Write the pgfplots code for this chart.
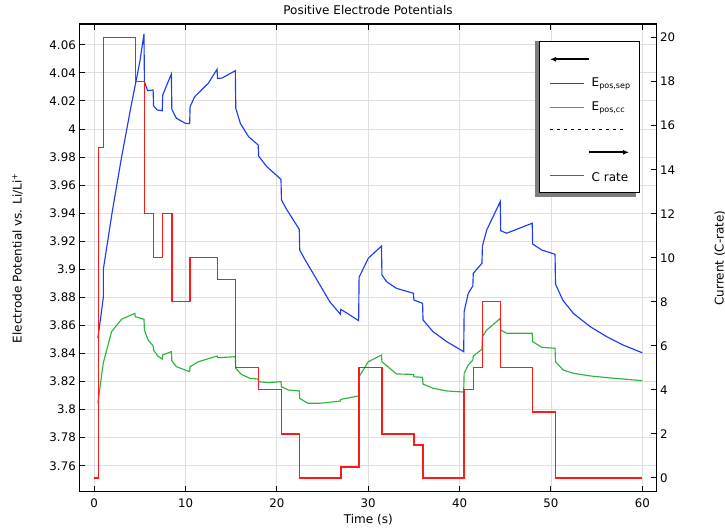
\documentclass[border=0pt]{standalone}
\usepackage{fontspec}
\setmainfont{DejaVu Sans}
\usepackage{pgfplots}
\pgfplotsset{compat=1.18}
\usetikzlibrary{arrows.meta}

\definecolor{cblue}{RGB}{30,60,245}
\definecolor{cgreen}{RGB}{45,180,60}
\definecolor{cred}{RGB}{255,25,25}
\definecolor{cgrid}{RGB}{222,222,222}
\definecolor{cshadow}{RGB}{125,125,125}

\pgfplotsset{
  common/.style={
    scale only axis, width=577.4pt, height=467.7pt,
    at={(79.3pt,36.3pt)}, anchor=south west,
    xmin=-1.63, xmax=61.58,
    tick align=inside, major tick length=6pt,
    axis line style={black, line width=1.2pt},
    every tick/.style={black, line width=0.9pt},
    tick label style={font=\fontsize{11.8}{13}\selectfont},
    /pgf/number format/assume math mode=true,
  }
}

\begin{document}
\begin{tikzpicture}
\path[use as bounding box] (0,0) rectangle (725pt,528pt);

% left axis: potentials
\begin{axis}[common,
  ymin=3.7415, ymax=4.0748,
  xtick={0,10,20,30,40,50,60},
  ytick={3.76,3.78,3.8,3.82,3.84,3.86,3.88,3.9,3.92,3.94,3.96,3.98,4,4.02,4.04,4.06},
  yticklabel style={/pgf/number format/fixed, /pgf/number format/precision=2},
  ytick pos=left,
  xticklabel style={yshift=-3.6pt},
  grid=major, grid style={cgrid, line width=0.8pt}]
% E_pos,sep
\addplot[cblue, line width=1.15pt] coordinates {
  (0.4,3.851) (0.7,3.865) (1.0,3.88) (1.0,3.9) (2,3.942) (3,3.98) (4,4.015)
  (5,4.048) (5.45,4.0677) (5.5,4.0337) (5.85,4.0273) (6.45,4.0278) (6.5,4.0164)
  (6.9,4.0135) (7.45,4.013) (7.5,4.0242) (8.45,4.0392) (8.5,4.014) (9.0,4.0076)
  (10.0,4.004) (10.45,4.0038) (10.5,4.0159) (11.0,4.023) (12.5,4.0326)
  (13.45,4.0425) (13.5,4.036) (14.0,4.0363) (15.45,4.0415) (15.5,4.0147)
  (16.0,4.004) (16.9,3.9945) (17.95,3.9886) (18.0,3.9807) (18.9,3.9731)
  (20.45,3.9641) (20.5,3.9494) (21.1,3.9423) (22.45,3.9285) (22.5,3.9137)
  (23.1,3.9066) (24.2,3.8945) (25.8,3.8768) (26.95,3.868) (27.0,3.8715)
  (28.95,3.8634) (29.0,3.8943) (30.0,3.9078) (31.45,3.9166) (31.5,3.896)
  (32.0,3.8912) (33.1,3.8864) (34.95,3.8829) (35.0,3.8781) (35.95,3.8757)
  (36.0,3.8639) (37.1,3.8555) (38.6,3.8484) (40.45,3.8413) (40.5,3.8698)
  (40.95,3.8829) (41.45,3.8881) (41.5,3.8971) (42.45,3.9043) (42.5,3.9166)
  (42.97,3.928) (44.45,3.9482) (44.5,3.9275) (45.15,3.9257) (47.95,3.9328)
  (48.0,3.918) (49.0,3.9137) (50.45,3.9107) (50.5,3.8895) (51.3,3.878)
  (52.45,3.8686) (54.3,3.8591) (56.1,3.852) (57.9,3.846) (60,3.8405)};
% E_pos,cc
\addplot[cgreen, line width=1.15pt] coordinates {
  (0.4,3.8045) (1.0,3.8334) (1.9,3.8555) (3.0,3.8644) (4.45,3.8686) (4.5,3.8662)
  (5.45,3.8644) (5.5,3.8567) (5.9,3.8496) (6.45,3.8455) (6.5,3.8425)
  (6.95,3.8382) (7.45,3.836) (7.5,3.8389) (8.45,3.8413) (8.5,3.8346)
  (9.0,3.8306) (10.45,3.827) (10.5,3.8306) (11.4,3.8341) (13.45,3.8382)
  (13.5,3.837) (15.45,3.8377) (15.5,3.8294) (16.1,3.8251) (17.05,3.8223)
  (17.95,3.8218) (18.0,3.8199) (19.05,3.8192) (20.45,3.8199) (20.5,3.8163)
  (21.25,3.814) (22.45,3.8133) (22.5,3.808) (23.4,3.8045) (24.7,3.8045)
  (26.95,3.8061) (27.0,3.8073) (28.95,3.8097) (29.0,3.8234) (30.0,3.8341)
  (31.45,3.8389) (31.5,3.8341) (33.1,3.8254) (34.95,3.8251) (35.0,3.8234)
  (35.95,3.823) (36.0,3.8182) (37.1,3.8152) (38.6,3.8133) (40.45,3.8125)
  (40.5,3.8259) (40.95,3.8318) (41.45,3.8353) (41.5,3.8382) (42.45,3.843)
  (42.5,3.852) (42.97,3.8567) (44.45,3.865) (44.5,3.8567) (45.15,3.8544)
  (47.95,3.8544) (48.0,3.8484) (49.0,3.8444) (50.45,3.8437) (50.5,3.8341)
  (51.35,3.8282) (52.45,3.8259) (54.3,3.824) (56.1,3.8228) (57.9,3.8218)
  (60,3.8206)};
\end{axis}

% right axis: C rate
\begin{axis}[common,
  axis y line*=right, axis x line=none,
  ymin=-0.63, ymax=20.62,
  ytick={0,2,4,6,8,10,12,14,16,18,20}]
\addplot[cred, line width=1.4pt, const plot] coordinates {
  (0,0) (0.45,15) (1,20) (4.5,18) (5.5,12) (6.5,10) (7.5,12) (8.5,8) (10.5,10)
  (13.5,9) (15.5,5) (18,4) (20.5,2) (22.5,0) (27,0.5) (29,5) (31.5,2) (35,1.5)
  (36,0) (40.5,4) (41.5,5) (42.5,8) (44.5,5) (48,3) (50.5,0) (60,0)};
\end{axis}

% labels and legend, in picture pixels (y downwards)
\begin{scope}[x=1pt, y=-1pt, shift={(0pt,528pt)}, font=\fontsize{12}{14}\selectfont]
  \node[anchor=base] at (368,15) {Positive Electrode Potentials};
  \node[anchor=base] at (368.3,523.3) {Time (s)};
  \node[anchor=base, rotate=90] at (21.7,258) {Electrode Potential vs. Li/Li\textsuperscript{+}};
  \node[anchor=base, rotate=90] at (723.5,258) {Current (C-rate)};

  \fill[cshadow] (535,41.5) rectangle (636,196.7);
  \draw[black, line width=1.3pt, fill=white] (539.2,41.7) rectangle (639.2,192.5);
  \draw[black, line width=1.6pt, -{Latex[length=6pt,width=5pt]}] (589,59.3) -- (550,59.3);
  \draw[cblue, line width=1pt] (550,83.3) -- (584.3,83.3);
  \node[anchor=base west, inner sep=0pt] at (591.5,86.6) {E\textsubscript{pos,sep}};
  \draw[cgreen, line width=1pt] (550,107.7) -- (584.3,107.7);
  \node[anchor=base west, inner sep=0pt] at (591.5,110.9) {E\textsubscript{pos,cc}};
  \draw[black, line width=1pt, dash pattern=on 3pt off 4pt] (550,129.3) -- (626.7,129.3);
  \draw[black, line width=1.6pt, -{Latex[length=6pt,width=5pt]}] (589.3,152.3) -- (629,152.3);
  \draw[cred, line width=1pt] (550,176) -- (584.3,176);
  \node[anchor=base west, inner sep=0pt] at (591.5,181.8) {C rate};
\end{scope}
\end{tikzpicture}
\end{document}
